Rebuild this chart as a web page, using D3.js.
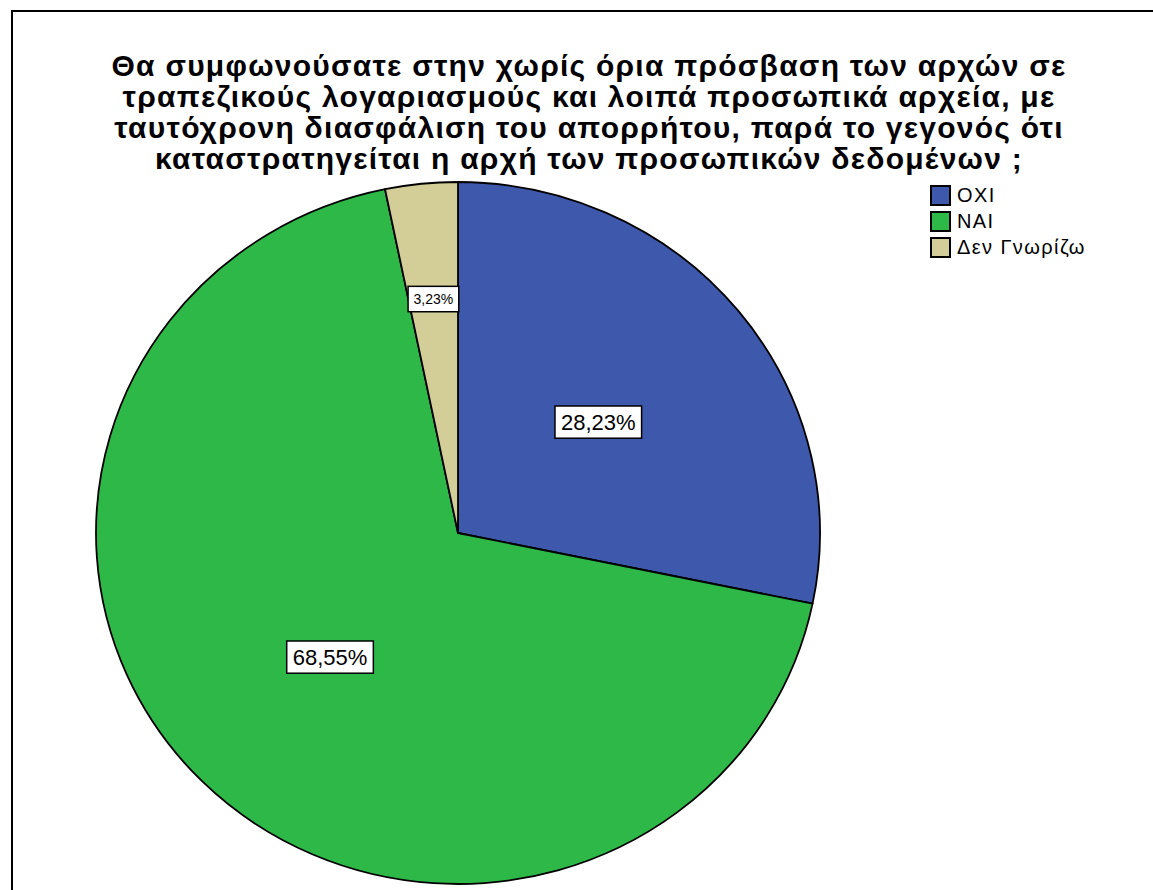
<!DOCTYPE html>
<html>
<head>
<meta charset="utf-8">
<script src="https://cdn.jsdelivr.net/npm/d3@7"></script>
<style>
  html, body { margin: 0; padding: 0; background: #fff; }
  svg { display: block; font-family: "Liberation Sans", Arial, sans-serif; }
</style>
</head>
<body>
<svg id="chart" width="1153" height="890"></svg>
<script>
// Survey answers and their share of responses (%)
const categories = ["ΟΧΙ", "ΝΑΙ", "Δεν Γνωρίζω"];
const percents = [28.23, 68.55, 3.23];
const sliceColors = ["#3E58AC", "#2EB848", "#D3CE97"];
const titleLines = [
  "Θα συμφωνούσατε στην χωρίς όρια πρόσβαση των αρχών σε",
  "τραπεζικούς λογαριασμούς και λοιπά προσωπικά αρχεία, με",
  "ταυτόχρονη διασφάλιση του απορρήτου, παρά το γεγονός ότι",
  "καταστρατηγείται η αρχή των προσωπικών δεδομένων ;"
];

const svg = d3.select("#chart");
const W = 1153, H = 890;

// outer frame (top and left edges)
svg.append("line").attr("x1", 12).attr("y1", 11).attr("x2", W).attr("y2", 11)
  .attr("stroke", "#000").attr("stroke-width", 2);
svg.append("line").attr("x1", 12).attr("y1", 10).attr("x2", 12).attr("y2", H)
  .attr("stroke", "#000").attr("stroke-width", 2);

// title
const title = svg.append("text")
  .attr("text-anchor", "middle")
  .attr("font-weight", "bold")
  .attr("font-size", 30)
  .attr("letter-spacing", 1.25)
  .attr("fill", "#000");
titleLines.forEach((line, i) => {
  title.append("tspan").attr("x", 589).attr("y", 76 + i * 31).text(line);
});

// pie (slightly elliptical, as drawn by the source tool)
const cx = 458, cy = 533, rx = 362, ry = 351;
const pie = d3.pie().sort(null).value(d => d.value);
const data = categories.map((c, i) => ({ name: c, value: percents[i], color: sliceColors[i] }));
const arcs = pie(data);
const arc = d3.arc().innerRadius(0).outerRadius(rx);

const pieG = svg.append("g")
  .attr("transform", `translate(${cx},${cy}) scale(1,${ry / rx})`);
pieG.selectAll("path.slice")
  .data(arcs)
  .join("path")
  .attr("class", "slice")
  .attr("d", arc)
  .attr("fill", d => d.data.color)
  .attr("stroke", "#000")
  .attr("stroke-width", 1.8)
  .attr("stroke-linejoin", "round")
  .attr("vector-effect", "non-scaling-stroke");

// value labels in boxed tags
const fmt = v => v.toFixed(2).replace(".", ",") + "%";
const labelG = svg.append("g");
arcs.forEach(a => {
  const small = (a.endAngle - a.startAngle) < 0.5;
  const frac = small ? 0.67 : 0.5;
  const mid = (a.startAngle + a.endAngle) / 2;
  const lx = cx + Math.sin(mid) * rx * frac;
  const ly = cy - Math.cos(mid) * ry * frac;
  const fs = small ? 14 : 22;
  const padX = small ? 5.5 : 6, padY = small ? 5 : 4;
  const g = labelG.append("g");
  const rect = g.append("rect").attr("fill", "#fff").attr("stroke", "#000").attr("stroke-width", 1.5);
  const t = g.append("text")
    .attr("x", lx).attr("y", ly)
    .attr("text-anchor", "middle")
    .attr("dominant-baseline", "central")
    .attr("font-size", fs)
    .attr("fill", "#000")
    .text(fmt(a.data.value));
  const bb = t.node().getBBox();
  const bw = bb.width + padX * 2, bh = fs * 1.1 + padY * 2;
  rect.attr("x", lx - bw / 2).attr("y", ly - bh / 2).attr("width", bw).attr("height", bh);
});

// legend
const legend = svg.append("g").attr("transform", "translate(931,186)");
const rows = legend.selectAll("g").data(data).join("g")
  .attr("transform", (d, i) => `translate(0,${i * 26})`);
rows.append("rect")
  .attr("x", 0).attr("y", 0).attr("width", 19).attr("height", 19)
  .attr("fill", d => d.color).attr("stroke", "#000").attr("stroke-width", 2);
rows.append("text")
  .attr("x", 26).attr("y", 16)
  .attr("font-size", 20)
  .attr("letter-spacing", 1.4)
  .attr("fill", "#000")
  .text(d => d.name);
</script>
</body>
</html>
